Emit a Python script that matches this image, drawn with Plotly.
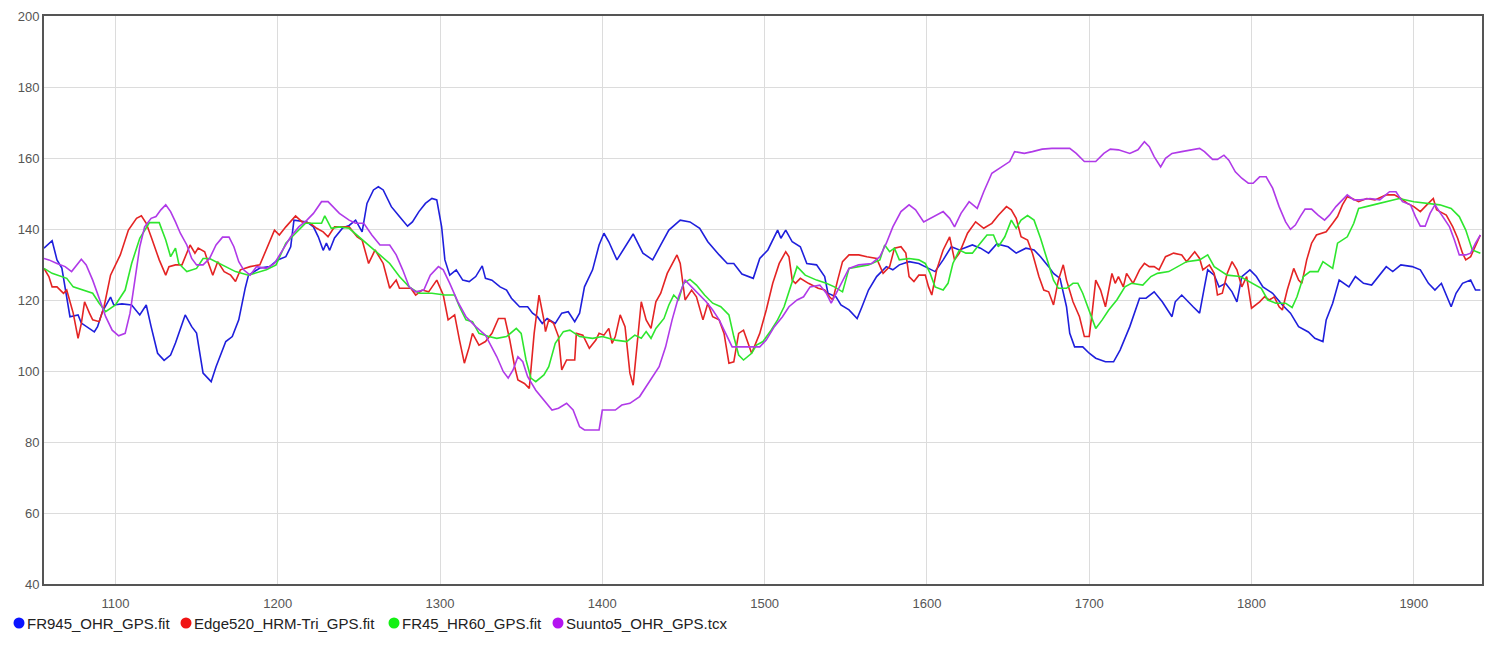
import plotly.graph_objects as go

# ---------------- data ----------------
fr945_x = [1056,1061,1064,1067,1072,1077,1079,1082,1087,1089,1092,1097,1099,1104,1110,1115,1119,1122,1126,1130,1134,1137,1143,1147,1150,1154,1159,1162,1168,1172,1176,1180,1182,1189,1195,1200,1205,1208,1210,1218,1222,1225,1228,1230,1232,1235,1240,1244,1248,1252,1255,1259,1262,1265,1270,1275,1280,1283,1287,1291,1295,1298,1301,1303,1306,1310,1314,1318,1322,1326,1328,1332,1337,1341,1344,1349,1354,1357,1360,1363,1366,1371,1375,1379,1383,1386,1389,1394,1398,1401,1404,1409,1412,1419,1425,1431,1436,1441,1448,1454,1460,1465,1472,1477,1481,1486,1493,1497,1502,1508,1510,1513,1517,1522,1526,1532,1537,1539,1544,1547,1552,1557,1560,1564,1569,1575,1579,1583,1589,1595,1601,1605,1610,1615,1620,1628,1633,1638,1643,1650,1655,1661,1666,1670,1675,1678,1682,1686,1688,1691,1696,1700,1704,1710,1715,1719,1725,1731,1735,1740,1745,1751,1753,1757,1764,1768,1771,1773,1777,1780,1784,1788,1791,1794,1799,1803,1807,1813,1819,1824,1829,1835,1839,1844,1846,1850,1854,1860,1864,1869,1874,1883,1887,1892,1899,1904,1909,1913,1917,1923,1926,1930,1935,1938,1941]
fr945_y = [134.6,136.7,131.3,129.0,115.3,115.8,113.5,112.5,111.0,112.5,116.7,120.8,118.6,118.9,118.6,115.8,118.6,112.5,105.0,103.0,104.5,107.9,115.8,112.5,110.7,99.4,97.0,101.2,108.3,109.7,114.4,123.4,127.0,129.0,129.4,131.3,132.2,135.0,142.5,142.0,140.6,137.8,134.0,136.0,134.0,137.5,140.3,141.0,142.5,139.2,147.2,151.0,151.9,151.0,146.3,143.5,140.8,142.0,144.9,147.2,148.6,148.2,140.6,131.3,127.0,128.5,125.6,125.2,126.6,129.6,126.1,125.6,123.7,122.8,120.5,118.1,118.1,116.3,115.3,113.4,114.8,113.4,116.3,116.7,113.9,116.3,123.7,128.5,135.5,138.8,136.4,131.3,133.6,138.6,133.2,131.3,135.5,139.7,142.5,142.0,140.2,136.4,132.7,130.3,130.3,127.3,126.1,131.7,134.1,139.7,137.4,139.7,136.4,135.0,130.3,129.9,126.6,121.9,120.9,118.6,117.2,114.8,118.1,122.8,126.6,129.4,128.5,129.9,130.8,130.3,128.9,128.0,131.3,135.0,134.1,135.5,134.6,133.2,135.8,135.0,133.2,134.6,134.1,132.2,129.4,127.5,126.1,118.1,110.6,106.8,106.8,105.0,103.6,102.6,102.6,105.9,112.5,120.5,120.5,122.3,119.5,115.3,119.5,121.4,118.1,116.3,123.7,128.5,127.0,123.7,124.7,122.3,119.5,126.6,128.5,126.6,123.7,121.9,118.6,116.3,112.5,111.0,109.2,108.3,114.4,119.1,125.6,123.7,126.6,124.7,124.2,129.4,128.0,129.9,129.4,128.5,124.7,122.8,124.7,118.1,121.9,124.7,125.6,122.8,122.8]

edge520_x = [1056,1059,1061,1064,1068,1070,1074,1077,1079,1081,1084,1086,1090,1093,1097,1103,1108,1113,1116,1119,1122,1127,1131,1133,1137,1141,1146,1149,1151,1155,1157,1160,1163,1167,1171,1174,1177,1183,1189,1193,1198,1201,1205,1211,1215,1220,1224,1228,1231,1235,1244,1249,1252,1256,1260,1265,1269,1273,1275,1282,1285,1289,1293,1298,1302,1305,1309,1312,1315,1318,1320,1324,1328,1332,1336,1340,1343,1346,1348,1352,1355,1358,1361,1364,1365,1367,1370,1373,1375,1378,1383,1384,1388,1392,1396,1398,1401,1404,1406,1408,1411,1414,1417,1419,1421,1424,1427,1430,1433,1436,1440,1443,1446,1448,1451,1455,1458,1462,1465,1468,1472,1475,1478,1481,1484,1487,1489,1492,1497,1501,1505,1509,1513,1515,1517,1519,1522,1527,1533,1537,1540,1542,1545,1548,1552,1558,1563,1569,1573,1577,1580,1584,1587,1589,1592,1595,1599,1601,1603,1606,1610,1614,1617,1620,1625,1630,1635,1640,1644,1649,1652,1655,1658,1662,1665,1669,1672,1675,1678,1681,1684,1686,1690,1694,1697,1700,1702,1704,1707,1710,1714,1716,1718,1721,1723,1727,1731,1734,1737,1740,1743,1747,1752,1757,1760,1765,1768,1770,1774,1777,1779,1782,1785,1788,1791,1794,1797,1800,1805,1808,1811,1814,1817,1819,1822,1826,1829,1831,1834,1837,1840,1846,1850,1853,1856,1859,1862,1866,1871,1876,1883,1888,1892,1896,1900,1904,1908,1912,1914,1920,1924,1927,1930,1932,1935,1938,1941]
edge520_y = [128.9,126.6,123.7,123.7,121.9,122.8,116.3,109.2,113.4,119.5,116.3,114.4,113.9,118.1,127.0,132.7,139.7,143.0,143.7,141.6,137.8,131.3,127.0,129.4,129.9,129.9,135.5,133.2,134.6,133.6,130.8,127.0,130.8,128.0,127.0,125.2,128.5,129.4,129.9,134.1,139.7,138.3,140.6,143.7,142.0,141.6,140.2,139.2,137.8,140.6,140.6,137.8,136.9,130.3,134.1,130.3,123.3,125.6,123.3,123.3,121.4,122.8,122.3,125.6,121.4,114.4,115.8,108.7,102.2,106.8,110.6,107.3,108.3,110.6,114.8,114.8,108.7,101.2,97.5,96.5,95.1,110.6,121.4,114.4,111.1,114.4,113.4,109.7,100.3,103.1,103.1,110.6,110.1,106.4,108.7,110.6,110.1,112.0,107.8,109.7,115.8,112.5,99.4,96.0,105.0,119.5,114.4,112.0,119.5,121.9,127.5,129.9,132.7,130.3,120.0,122.8,120.9,114.4,119.1,115.3,114.4,110.6,102.2,102.6,110.6,111.5,108.7,105.0,110.6,117.2,124.7,130.3,133.6,132.2,125.6,124.7,126.1,124.7,123.3,122.8,120.9,120.0,125.6,130.8,132.7,132.7,132.2,131.7,127.5,129.4,134.6,135.0,133.2,126.6,125.2,127.0,127.0,123.7,121.4,128.5,134.1,137.8,131.3,133.2,138.8,142.0,140.2,141.6,143.9,146.3,145.4,143.0,137.8,136.9,133.2,126.6,122.8,122.3,118.6,125.6,129.9,125.6,119.5,115.3,109.7,109.7,117.2,125.6,122.8,118.1,127.5,124.7,126.6,123.7,127.5,124.7,128.5,130.3,129.4,129.4,128.5,132.2,133.2,132.7,130.8,133.6,131.7,128.5,129.9,127.5,121.4,121.9,127.5,130.8,128.5,123.7,126.6,117.7,119.5,120.9,120.0,120.9,118.1,117.2,122.8,128.9,125.6,124.7,131.3,136.0,138.3,139.2,141.6,143.5,146.8,149.1,148.6,147.7,148.6,148.2,149.6,149.6,148.6,147.2,146.3,144.9,146.8,148.6,145.4,143.9,140.6,137.4,133.2,131.3,132.2,135.5,138.3]

fr45_x = [1056,1061,1070,1074,1086,1090,1094,1100,1106,1110,1115,1121,1127,1131,1134,1137,1139,1144,1150,1154,1158,1166,1174,1182,1193,1199,1205,1211,1217,1227,1229,1233,1238,1244,1250,1256,1263,1269,1275,1281,1287,1295,1303,1309,1312,1316,1320,1324,1330,1335,1341,1347,1350,1353,1356,1359,1364,1367,1371,1376,1380,1386,1394,1400,1408,1415,1420,1424,1427,1430,1433,1438,1441,1444,1447,1450,1454,1458,1463,1468,1473,1478,1481,1484,1487,1492,1495,1499,1504,1508,1512,1515,1520,1525,1532,1538,1543,1548,1552,1558,1564,1571,1574,1577,1580,1583,1589,1595,1599,1602,1605,1610,1613,1616,1620,1624,1628,1632,1637,1641,1644,1648,1652,1655,1658,1662,1666,1670,1674,1678,1681,1686,1690,1693,1696,1700,1704,1708,1712,1717,1722,1726,1733,1738,1742,1749,1755,1760,1768,1773,1777,1785,1793,1801,1806,1810,1815,1821,1825,1828,1832,1836,1841,1844,1850,1853,1859,1863,1866,1875,1884,1891,1900,1908,1916,1923,1928,1932,1936,1941]
fr45_y = [128.9,127.5,126.1,123.7,121.9,119.1,116.7,118.6,122.8,130.3,137.4,141.8,141.8,136.9,132.2,134.6,130.3,128.0,128.9,131.7,131.7,129.9,128.0,127.0,128.5,129.9,136.0,138.8,141.6,141.6,143.7,140.2,140.6,140.2,137.8,135.5,132.7,130.3,126.6,123.7,121.9,121.9,121.4,121.4,118.1,114.4,113.9,110.6,109.7,109.2,109.7,112.0,110.6,103.1,98.0,97.0,98.9,101.2,107.8,111.1,111.5,109.7,109.2,109.7,108.7,108.3,110.1,109.2,111.1,109.2,112.0,114.8,118.6,121.4,120.0,124.7,125.8,124.2,121.4,119.1,118.1,115.8,109.7,104.5,103.1,105.0,107.3,108.3,111.5,114.4,118.1,122.3,129.4,127.0,125.6,124.7,123.7,122.3,128.9,129.4,129.9,131.3,135.5,133.6,134.6,131.3,131.7,131.3,130.3,127.5,123.7,122.8,124.7,130.3,134.1,133.2,133.2,135.5,138.3,138.3,135.0,137.8,142.5,140.2,142.5,143.8,142.5,137.4,131.3,125.6,123.3,123.3,124.7,124.7,121.9,116.7,112.0,114.4,117.2,120.0,123.7,124.7,124.2,126.6,127.5,128.0,129.4,130.8,131.3,132.7,129.4,127.0,126.6,124.7,123.3,120.0,119.1,119.1,117.9,120.9,126.6,128.0,128.0,130.8,128.9,136.0,137.8,141.6,145.8,146.8,147.7,148.6,147.7,147.2,146.8,145.8,143.5,139.7,134.1,133.2]

suunto5_x = [1056,1059,1064,1069,1073,1076,1079,1082,1086,1090,1094,1098,1102,1106,1109,1112,1115,1118,1122,1125,1128,1131,1134,1137,1140,1144,1147,1150,1154,1158,1162,1166,1170,1173,1176,1179,1183,1187,1193,1198,1203,1208,1213,1218,1222,1227,1231,1235,1238,1244,1248,1253,1258,1263,1269,1273,1277,1281,1285,1290,1294,1299,1302,1306,1311,1316,1322,1328,1335,1339,1342,1345,1348,1351,1354,1359,1365,1369,1373,1378,1382,1386,1389,1398,1400,1408,1412,1417,1423,1427,1431,1435,1439,1443,1447,1451,1455,1460,1464,1468,1472,1476,1480,1497,1501,1506,1511,1515,1520,1524,1528,1534,1538,1541,1544,1548,1552,1558,1566,1571,1575,1579,1584,1589,1593,1598,1604,1610,1614,1617,1621,1626,1631,1635,1640,1645,1651,1654,1660,1665,1671,1677,1688,1692,1697,1704,1709,1713,1718,1725,1730,1734,1737,1740,1744,1747,1751,1757,1764,1768,1771,1776,1779,1783,1786,1790,1794,1798,1801,1805,1809,1813,1817,1821,1824,1827,1830,1833,1837,1841,1845,1848,1852,1855,1859,1863,1867,1873,1879,1885,1889,1893,1898,1901,1904,1907,1910,1913,1917,1922,1925,1928,1932,1935,1938,1941]
suunto5_y = [131.7,131.3,130.3,129.4,128.0,129.9,131.5,129.9,125.6,120.5,115.3,111.5,109.9,110.6,116.3,125.6,135.0,140.6,143.0,143.5,145.4,146.8,144.9,142.0,138.8,135.5,131.7,129.9,129.9,131.7,135.5,137.7,137.7,135.0,130.8,128.5,127.0,129.4,128.9,130.3,134.1,137.8,140.6,142.5,144.4,147.7,147.7,145.8,144.4,142.5,141.6,141.6,138.3,135.5,135.5,132.7,128.5,123.7,122.3,122.8,127.0,129.4,128.5,124.7,119.5,115.3,112.5,110.1,104.0,99.8,98.0,100.3,104.0,102.6,98.4,94.6,91.4,89.0,89.5,90.9,89.0,84.3,83.4,83.4,89.0,89.0,90.4,90.9,92.8,95.6,98.4,101.2,106.8,114.4,120.9,125.6,123.7,121.4,119.5,117.2,114.4,110.6,106.8,106.8,108.7,112.5,115.3,118.1,120.0,120.9,123.7,124.2,121.9,119.1,121.9,125.6,128.9,129.9,130.3,132.2,136.0,140.6,144.9,146.8,145.4,142.0,143.5,144.9,143.0,140.6,144.4,147.7,145.8,150.5,155.7,157.1,159.0,161.8,161.3,161.8,162.5,162.7,162.7,161.3,159.0,159.0,161.3,162.5,162.3,161.3,162.3,164.6,163.2,160.4,157.5,159.9,161.3,161.8,162.3,162.7,161.8,159.6,159.6,160.8,159.4,156.1,154.3,152.9,152.9,154.7,154.7,151.5,146.3,142.0,139.9,141.1,143.5,145.6,145.6,143.9,142.5,143.9,146.3,147.7,149.6,148.2,148.2,148.6,148.2,150.5,150.5,147.7,146.8,143.5,140.8,140.8,144.4,146.8,143.9,140.6,136.9,132.7,132.7,133.2,136.0,138.3]

series_names = ["FR945_OHR_GPS.fit", "Edge520_HRM-Tri_GPS.fit", "FR45_HR60_GPS.fit", "Suunto5_OHR_GPS.tcx"]
line_colors = ["#1f1fdc", "#e42424", "#2ee62e", "#b03ae8"]
dot_colors = ["#0a14ff", "#f01414", "#14f014", "#b414f0"]

x_tick_vals = [1100, 1200, 1300, 1400, 1500, 1600, 1700, 1800, 1900]
y_tick_vals = [40, 60, 80, 100, 120, 140, 160, 180, 200]

# ---------------- layout constants (pixels) ----------------
W, H = 1500, 645
ML, MR, MT, MB = 44, 18, 16, 61
PW, PH = W - ML - MR, H - MT - MB
legend_dot_px = [19, 186, 394, 558]      # dot centre x
legend_text_px = [26, 193, 401, 565]     # text start x
legend_y_px = 623

def px_to_paper_x(px):
    return (px - ML) / PW

def px_to_paper_y(py):
    return (H - MB - py) / PH

# ---------------- figure ----------------
fig = go.Figure()
xs = [fr945_x, edge520_x, fr45_x, suunto5_x]
ys = [fr945_y, edge520_y, fr45_y, suunto5_y]
for name, x, y, lc in zip(series_names, xs, ys, line_colors):
    fig.add_trace(go.Scatter(x=x, y=y, mode="lines", name=name,
                             showlegend=False, line=dict(color=lc, width=1.6)))

font_family = "Liberation Sans, Arial, Helvetica, sans-serif"
shapes = []
annotations = []
ly = px_to_paper_y(legend_y_px)
for name, dc, dpx, tpx in zip(series_names, dot_colors, legend_dot_px, legend_text_px):
    shapes.append(dict(type="circle", xref="paper", yref="paper",
                       xsizemode="pixel", ysizemode="pixel",
                       xanchor=px_to_paper_x(dpx), yanchor=ly,
                       x0=-5.5, x1=5.5, y0=-5.5, y1=5.5,
                       fillcolor=dc, line=dict(width=0)))
    annotations.append(dict(text=name, xref="paper", yref="paper",
                            x=px_to_paper_x(tpx), y=ly, xanchor="left", yanchor="middle",
                            showarrow=False, borderpad=0,
                            font=dict(family=font_family, size=15, color="#222")))

fig.update_layout(
    width=W, height=H,
    margin=dict(l=ML, r=MR, t=MT, b=MB, autoexpand=False),
    paper_bgcolor="white", plot_bgcolor="white",
    font=dict(family=font_family, size=13, color="#444"),
    showlegend=False,
    shapes=shapes,
    annotations=annotations,
    xaxis=dict(range=[1056, 1942], tickvals=x_tick_vals, showgrid=True, gridcolor="#dcdcdc",
               gridwidth=1, zeroline=False, showline=True, linecolor="#555", linewidth=2,
               mirror=True, ticks="", ticklabelstandoff=6, tickfont=dict(size=13, color="#555")),
    yaxis=dict(range=[40, 200], tickvals=y_tick_vals, showgrid=True, gridcolor="#dcdcdc",
               gridwidth=1, zeroline=False, showline=True, linecolor="#555", linewidth=2,
               mirror=True, ticks="", tickfont=dict(size=13, color="#555")),
)

fig.write_html("out.html")
